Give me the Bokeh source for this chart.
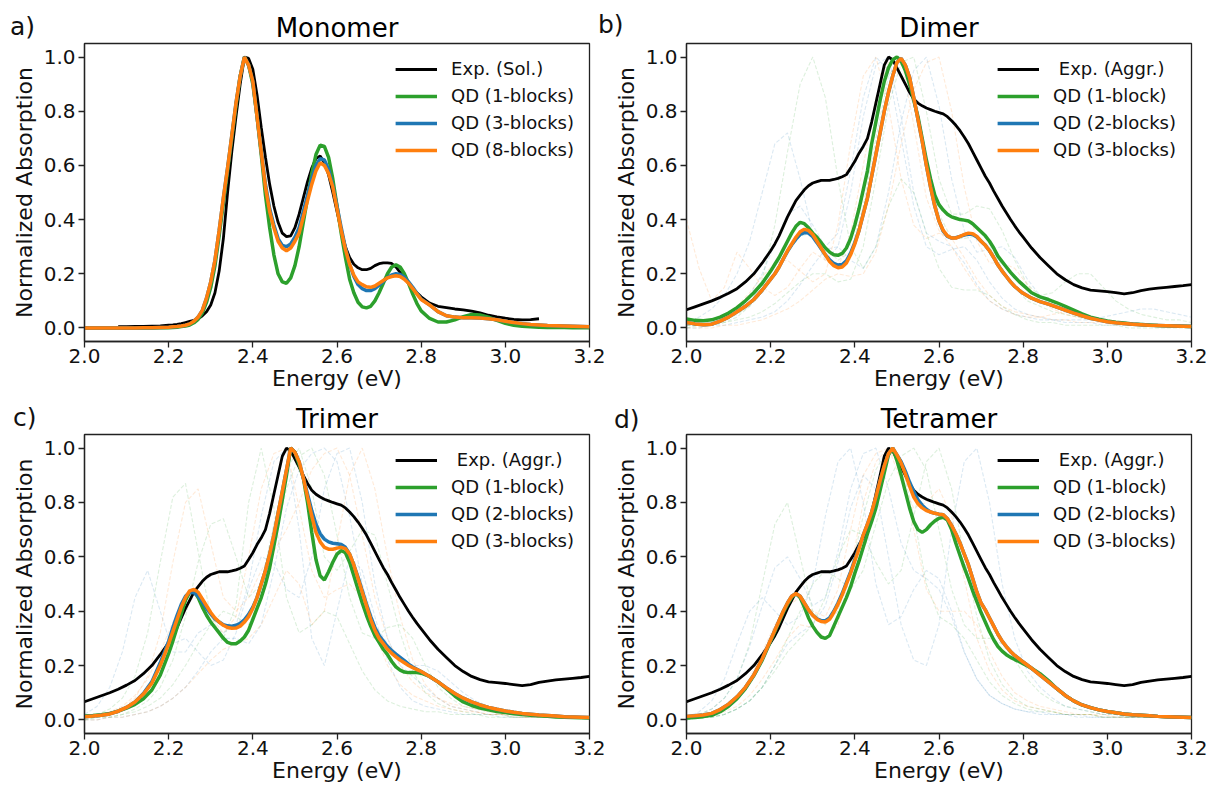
from bokeh.plotting import figure
from bokeh.layouts import column, row
from bokeh.models import Legend, LegendItem, Div, FixedTicker, PrintfTickFormatter, Range1d
from bokeh.embed import file_html
from bokeh.resources import INLINE

# ---------------- data ----------------
x_ticks = [2.0, 2.2, 2.4, 2.6, 2.8, 3.0, 3.2]
y_ticks = [0.0, 0.2, 0.4, 0.6, 0.8, 1.0]

energy = [2.00, 2.02, 2.04, 2.06, 2.08, 2.10, 2.12, 2.14, 2.16, 2.18, 2.20,
          2.21, 2.22, 2.23, 2.24, 2.25, 2.26, 2.27, 2.28, 2.29, 2.30,
          2.31, 2.32, 2.33, 2.34, 2.35, 2.36, 2.37, 2.38, 2.39, 2.40,
          2.41, 2.42, 2.43, 2.44, 2.45, 2.46, 2.47, 2.48, 2.49, 2.50,
          2.51, 2.52, 2.53, 2.54, 2.55, 2.56, 2.57, 2.58, 2.59, 2.60,
          2.61, 2.62, 2.63, 2.64, 2.65, 2.66, 2.67, 2.68, 2.69, 2.70,
          2.71, 2.72, 2.73, 2.74, 2.75, 2.76, 2.77, 2.78, 2.79, 2.80,
          2.82, 2.84, 2.86, 2.88, 2.90, 2.92, 2.94, 2.96, 2.98, 3.00,
          3.02, 3.04, 3.06, 3.08, 3.10, 3.12, 3.14, 3.16, 3.18, 3.20]

exp_sol_energy = [2.08, 2.10, 2.12, 2.14, 2.16, 2.18, 2.20,
                  2.21, 2.22, 2.23, 2.24, 2.25, 2.26, 2.27, 2.28, 2.29, 2.30,
                  2.31, 2.32, 2.33, 2.34, 2.35, 2.36, 2.37, 2.38, 2.39, 2.40,
                  2.41, 2.42, 2.43, 2.44, 2.45, 2.46, 2.47, 2.48, 2.49, 2.50,
                  2.51, 2.52, 2.53, 2.54, 2.55, 2.56, 2.57, 2.58, 2.59, 2.60,
                  2.61, 2.62, 2.63, 2.64, 2.65, 2.66, 2.67, 2.68, 2.69, 2.70,
                  2.71, 2.72, 2.73, 2.74, 2.75, 2.76, 2.77, 2.78, 2.79, 2.80,
                  2.82, 2.84, 2.86, 2.88, 2.90, 2.92, 2.94, 2.96, 2.98, 3.00,
                  3.02, 3.04, 3.06, 3.08]

exp_sol = [0.005, 0.005, 0.006, 0.006, 0.007, 0.008, 0.010,
           0.011, 0.013, 0.016, 0.020, 0.024, 0.028, 0.034, 0.045, 0.060, 0.085,
           0.13, 0.21, 0.33, 0.50, 0.65, 0.78, 0.90, 1.0, 0.995, 0.955,
           0.86, 0.74, 0.63, 0.53, 0.45, 0.39, 0.35, 0.337, 0.34, 0.37,
           0.42, 0.48, 0.54, 0.59, 0.625, 0.635, 0.61, 0.565, 0.50, 0.43,
           0.36, 0.30, 0.26, 0.235, 0.222, 0.215, 0.215, 0.22, 0.23, 0.237,
           0.24, 0.24, 0.238, 0.225, 0.205, 0.185, 0.165, 0.145, 0.13, 0.115,
           0.092, 0.08, 0.075, 0.07, 0.067, 0.062, 0.056, 0.047, 0.041, 0.036,
           0.032, 0.03, 0.031, 0.034]

mono_qd1 = [0.0, 0.0, 0.0, 0.0, 0.0, 0.0, 0.0, 0.0, 0.0, 0.001, 0.001,
            0.002, 0.003, 0.005, 0.007, 0.011, 0.019, 0.032, 0.055, 0.095, 0.15,
            0.23, 0.34, 0.46, 0.58, 0.70, 0.82, 0.93, 1.0, 0.97, 0.90,
            0.78, 0.64, 0.49, 0.37, 0.27, 0.20, 0.17, 0.165, 0.185, 0.23,
            0.30, 0.39, 0.48, 0.57, 0.64, 0.675, 0.67, 0.63, 0.55, 0.45,
            0.35, 0.26, 0.18, 0.13, 0.095, 0.078, 0.074, 0.08, 0.10, 0.13,
            0.165, 0.20, 0.225, 0.233, 0.225, 0.20, 0.165, 0.125, 0.09, 0.063,
            0.035, 0.022, 0.022, 0.03, 0.042, 0.05, 0.048, 0.04, 0.028, 0.017,
            0.01, 0.006, 0.004, 0.003, 0.002, 0.002, 0.002, 0.001, 0.001, 0.001]

mono_qd3 = [0.0, 0.0, 0.0, 0.0, 0.0, 0.0, 0.0, 0.001, 0.001, 0.002, 0.003,
            0.004, 0.005, 0.007, 0.010, 0.015, 0.025, 0.040, 0.065, 0.110, 0.170,
            0.25, 0.36, 0.48, 0.59, 0.71, 0.83, 0.93, 1.0, 0.97, 0.91,
            0.78, 0.65, 0.53, 0.44, 0.38, 0.33, 0.305, 0.30, 0.31, 0.335,
            0.37, 0.43, 0.49, 0.55, 0.60, 0.625, 0.62, 0.585, 0.525, 0.45,
            0.37, 0.295, 0.235, 0.19, 0.16, 0.145, 0.138, 0.138, 0.145, 0.158,
            0.172, 0.186, 0.196, 0.2, 0.197, 0.187, 0.17, 0.15, 0.128, 0.107,
            0.085, 0.06, 0.045, 0.04, 0.038, 0.038, 0.037, 0.034, 0.03, 0.025,
            0.02, 0.016, 0.013, 0.011, 0.009, 0.008, 0.007, 0.006, 0.005, 0.004]

mono_qd8 = [0.0, 0.0, 0.0, 0.0, 0.0, 0.0, 0.0, 0.001, 0.001, 0.002, 0.003,
            0.004, 0.005, 0.007, 0.010, 0.015, 0.025, 0.040, 0.065, 0.110, 0.170,
            0.25, 0.36, 0.48, 0.59, 0.71, 0.83, 0.93, 1.0, 0.97, 0.91,
            0.78, 0.65, 0.52, 0.43, 0.37, 0.32, 0.295, 0.285, 0.295, 0.32,
            0.35, 0.41, 0.47, 0.53, 0.58, 0.61, 0.60, 0.57, 0.52, 0.44,
            0.36, 0.29, 0.235, 0.195, 0.17, 0.16, 0.152, 0.15, 0.155, 0.165,
            0.175, 0.185, 0.19, 0.193, 0.19, 0.18, 0.165, 0.145, 0.125, 0.105,
            0.085, 0.06, 0.045, 0.04, 0.038, 0.038, 0.037, 0.034, 0.03, 0.025,
            0.02, 0.016, 0.013, 0.011, 0.009, 0.008, 0.007, 0.006, 0.005, 0.004]

exp_aggr = [0.067, 0.078, 0.089, 0.10, 0.113, 0.128, 0.145, 0.17, 0.20, 0.24, 0.285,
            0.31, 0.34, 0.375, 0.41, 0.44, 0.47, 0.49, 0.51, 0.525, 0.535,
            0.54, 0.545, 0.545, 0.545, 0.548, 0.552, 0.558, 0.566, 0.59, 0.615,
            0.645, 0.67, 0.70, 0.76, 0.83, 0.90, 0.97, 1.0, 0.99, 0.96,
            0.93, 0.90, 0.87, 0.845, 0.83, 0.82, 0.812, 0.806, 0.80, 0.795,
            0.79, 0.78, 0.765, 0.748, 0.728, 0.705, 0.68, 0.65, 0.62, 0.59,
            0.56, 0.535, 0.505, 0.478, 0.45, 0.425, 0.40, 0.377, 0.355, 0.335,
            0.295, 0.26, 0.23, 0.20, 0.178, 0.16, 0.148, 0.14, 0.137, 0.134,
            0.13, 0.126, 0.13, 0.138, 0.143, 0.147, 0.15, 0.153, 0.156, 0.16]

dimer_qd1 = [0.033, 0.028, 0.027, 0.03, 0.04, 0.055, 0.075, 0.10, 0.13, 0.165, 0.21,
             0.235, 0.26, 0.29, 0.32, 0.35, 0.375, 0.39, 0.385, 0.37, 0.35,
             0.335, 0.315, 0.295, 0.28, 0.27, 0.268, 0.275, 0.295, 0.33, 0.38,
             0.44, 0.51, 0.58, 0.68, 0.76, 0.84, 0.91, 0.96, 0.99, 1.0,
             0.985, 0.95, 0.90, 0.84, 0.78, 0.70, 0.62, 0.55, 0.49, 0.455,
             0.435, 0.42, 0.41, 0.405, 0.40, 0.398, 0.395, 0.385, 0.37, 0.355,
             0.34, 0.32, 0.295, 0.265, 0.245, 0.225, 0.205, 0.188, 0.172, 0.158,
             0.13, 0.115, 0.105, 0.093, 0.08, 0.066, 0.052, 0.04, 0.032, 0.026,
             0.021, 0.018, 0.015, 0.013, 0.011, 0.009, 0.008, 0.007, 0.006, 0.005]

dimer_qd2 = [0.02, 0.015, 0.012, 0.014, 0.025, 0.04, 0.06, 0.08, 0.105, 0.14, 0.18,
             0.20, 0.225, 0.255, 0.283, 0.307, 0.328, 0.345, 0.352, 0.35, 0.337,
             0.315, 0.292, 0.27, 0.252, 0.238, 0.232, 0.234, 0.248, 0.276, 0.315,
             0.36, 0.42, 0.48, 0.56, 0.64, 0.72, 0.80, 0.87, 0.93, 0.98,
             0.995, 0.97, 0.925, 0.85, 0.77, 0.69, 0.60, 0.52, 0.45, 0.395,
             0.357, 0.338, 0.332, 0.333, 0.338, 0.343, 0.347, 0.345, 0.336, 0.32,
             0.305, 0.285, 0.26, 0.232, 0.21, 0.19, 0.17, 0.153, 0.14, 0.128,
             0.11, 0.097, 0.088, 0.077, 0.066, 0.055, 0.045, 0.036, 0.029, 0.023,
             0.019, 0.016, 0.014, 0.012, 0.01, 0.009, 0.008, 0.007, 0.006, 0.005]

dimer_qd3 = [0.02, 0.015, 0.012, 0.014, 0.025, 0.04, 0.06, 0.08, 0.105, 0.14, 0.18,
             0.20, 0.225, 0.255, 0.285, 0.31, 0.335, 0.355, 0.364, 0.36, 0.345,
             0.32, 0.295, 0.27, 0.245, 0.23, 0.222, 0.225, 0.24, 0.27, 0.31,
             0.36, 0.42, 0.48, 0.56, 0.64, 0.72, 0.80, 0.87, 0.93, 0.98,
             0.995, 0.97, 0.925, 0.85, 0.77, 0.69, 0.60, 0.52, 0.45, 0.395,
             0.36, 0.34, 0.332, 0.332, 0.338, 0.345, 0.35, 0.348, 0.338, 0.32,
             0.305, 0.285, 0.26, 0.232, 0.21, 0.19, 0.17, 0.153, 0.14, 0.128,
             0.11, 0.097, 0.088, 0.077, 0.066, 0.055, 0.045, 0.036, 0.029, 0.023,
             0.019, 0.016, 0.014, 0.012, 0.01, 0.009, 0.008, 0.007, 0.006, 0.005]

trimer_qd1 = [0.014, 0.016, 0.019, 0.024, 0.032, 0.043, 0.057, 0.078, 0.11, 0.165, 0.245,
              0.29, 0.34, 0.39, 0.44, 0.47, 0.475, 0.45, 0.415, 0.385, 0.36,
              0.34, 0.32, 0.30, 0.285, 0.28, 0.28, 0.29, 0.305, 0.33, 0.37,
              0.41, 0.45, 0.50, 0.56, 0.64, 0.72, 0.81, 0.90, 1.0, 0.985,
              0.94, 0.89, 0.80, 0.69, 0.59, 0.53, 0.515, 0.545, 0.58, 0.61,
              0.623, 0.615, 0.58, 0.53, 0.48, 0.43, 0.385, 0.345, 0.31, 0.285,
              0.26, 0.24, 0.215, 0.195, 0.183, 0.176, 0.174, 0.174, 0.174, 0.172,
              0.16, 0.14, 0.115, 0.088, 0.066, 0.053, 0.044, 0.037, 0.031, 0.027,
              0.023, 0.02, 0.017, 0.015, 0.013, 0.011, 0.01, 0.009, 0.008, 0.007]

trimer_qd2 = [0.012, 0.014, 0.017, 0.022, 0.032, 0.046, 0.066, 0.097, 0.14, 0.21, 0.29,
              0.34, 0.385, 0.425, 0.455, 0.47, 0.468, 0.455, 0.435, 0.41, 0.39,
              0.372, 0.36, 0.35, 0.346, 0.345, 0.348, 0.355, 0.368, 0.388, 0.415,
              0.45, 0.50, 0.55, 0.61, 0.68, 0.76, 0.84, 0.92, 1.0, 0.985,
              0.95, 0.89, 0.83, 0.77, 0.72, 0.685, 0.665, 0.655, 0.65, 0.648,
              0.645, 0.635, 0.61, 0.57, 0.525, 0.475, 0.425, 0.38, 0.34, 0.31,
              0.29, 0.27, 0.255, 0.242, 0.23, 0.218, 0.205, 0.195, 0.186, 0.178,
              0.16, 0.14, 0.118, 0.097, 0.08, 0.066, 0.055, 0.046, 0.039, 0.033,
              0.028, 0.024, 0.021, 0.018, 0.016, 0.014, 0.012, 0.011, 0.01, 0.009]

trimer_qd3 = [0.012, 0.014, 0.017, 0.022, 0.032, 0.046, 0.066, 0.095, 0.135, 0.20, 0.28,
              0.325, 0.37, 0.415, 0.45, 0.475, 0.48, 0.47, 0.445, 0.42, 0.395,
              0.375, 0.36, 0.348, 0.34, 0.337, 0.338, 0.345, 0.36, 0.38, 0.41,
              0.45, 0.50, 0.55, 0.61, 0.68, 0.76, 0.84, 0.92, 1.0, 0.985,
              0.95, 0.89, 0.82, 0.75, 0.69, 0.655, 0.635, 0.628, 0.628, 0.632,
              0.635, 0.63, 0.61, 0.57, 0.52, 0.47, 0.42, 0.37, 0.33, 0.30,
              0.28, 0.26, 0.245, 0.232, 0.22, 0.21, 0.20, 0.192, 0.185, 0.178,
              0.16, 0.14, 0.118, 0.097, 0.08, 0.066, 0.055, 0.046, 0.039, 0.033,
              0.028, 0.024, 0.021, 0.018, 0.016, 0.014, 0.012, 0.011, 0.01, 0.009]

tetramer_qd1 = [0.007, 0.009, 0.012, 0.017, 0.03, 0.05, 0.078, 0.115, 0.163, 0.22, 0.29,
                0.325, 0.36, 0.395, 0.425, 0.45, 0.465, 0.45, 0.415, 0.375, 0.345,
                0.322, 0.305, 0.30, 0.31, 0.345, 0.38, 0.415, 0.45, 0.49, 0.54,
                0.585, 0.635, 0.685, 0.73, 0.78, 0.845, 0.91, 0.975, 1.0, 0.955,
                0.90, 0.84, 0.78, 0.73, 0.70, 0.69, 0.70, 0.718, 0.732, 0.742,
                0.745, 0.735, 0.70, 0.65, 0.605, 0.56, 0.52, 0.475, 0.435, 0.395,
                0.36, 0.325, 0.295, 0.27, 0.253, 0.24, 0.23, 0.222, 0.215, 0.207,
                0.19, 0.17, 0.145, 0.115, 0.09, 0.07, 0.055, 0.045, 0.037, 0.031,
                0.026, 0.022, 0.019, 0.017, 0.015, 0.013, 0.012, 0.011, 0.01, 0.009]

tetramer_qd2 = [0.013, 0.015, 0.018, 0.024, 0.038, 0.058, 0.085, 0.12, 0.165, 0.225, 0.295,
                0.33, 0.365, 0.40, 0.43, 0.455, 0.465, 0.455, 0.43, 0.405, 0.385,
                0.372, 0.365, 0.365, 0.375, 0.40, 0.43, 0.465, 0.505, 0.545, 0.59,
                0.635, 0.68, 0.72, 0.765, 0.82, 0.88, 0.935, 0.98, 1.0, 0.975,
                0.95, 0.915, 0.875, 0.84, 0.81, 0.79, 0.775, 0.765, 0.76, 0.757,
                0.755, 0.74, 0.715, 0.685, 0.65, 0.61, 0.57, 0.52, 0.47, 0.43,
                0.405, 0.375, 0.345, 0.315, 0.29, 0.27, 0.252, 0.237, 0.225, 0.213,
                0.19, 0.165, 0.14, 0.115, 0.09, 0.07, 0.055, 0.045, 0.037, 0.031,
                0.026, 0.022, 0.019, 0.017, 0.015, 0.013, 0.012, 0.011, 0.01, 0.009]

tetramer_qd3 = [0.013, 0.015, 0.018, 0.024, 0.038, 0.058, 0.085, 0.12, 0.165, 0.225, 0.295,
                0.33, 0.365, 0.40, 0.43, 0.455, 0.465, 0.455, 0.43, 0.405, 0.385,
                0.37, 0.362, 0.36, 0.37, 0.395, 0.425, 0.46, 0.50, 0.54, 0.585,
                0.63, 0.68, 0.72, 0.765, 0.82, 0.88, 0.935, 0.98, 1.0, 0.975,
                0.945, 0.905, 0.86, 0.82, 0.795, 0.78, 0.77, 0.765, 0.76, 0.757,
                0.755, 0.74, 0.715, 0.685, 0.65, 0.61, 0.57, 0.52, 0.47, 0.43,
                0.405, 0.375, 0.345, 0.315, 0.29, 0.27, 0.252, 0.237, 0.225, 0.213,
                0.19, 0.165, 0.14, 0.115, 0.09, 0.07, 0.055, 0.045, 0.037, 0.031,
                0.026, 0.022, 0.019, 0.017, 0.015, 0.013, 0.012, 0.011, 0.01, 0.009]

# individual (faint, dashed) configurations on a coarser grid
config_energy = [2.00, 2.03, 2.06, 2.09, 2.12, 2.15, 2.18, 2.21, 2.24, 2.27, 2.30,
                 2.33, 2.36, 2.39, 2.42, 2.45, 2.48, 2.51, 2.54, 2.57, 2.60,
                 2.63, 2.66, 2.69, 2.72, 2.75, 2.78, 2.81, 2.84, 2.87, 2.90,
                 2.93, 2.96, 2.99, 3.02, 3.05, 3.08, 3.11, 3.14, 3.17, 3.20]

dimer_configs = [
    [0.01, 0.01, 0.02, 0.03, 0.05, 0.08, 0.13, 0.20, 0.28, 0.34, 0.35, 0.30, 0.25, 0.28, 0.45, 0.70, 0.93, 1.00, 0.85, 0.60, 0.42, 0.33, 0.33, 0.34, 0.30, 0.22, 0.15, 0.10, 0.08, 0.06, 0.05, 0.04, 0.03, 0.03, 0.02, 0.02, 0.01, 0.01, 0.01, 0.01, 0.01],
    [0.00, 0.00, 0.01, 0.01, 0.02, 0.03, 0.04, 0.06, 0.10, 0.16, 0.23, 0.29, 0.30, 0.25, 0.22, 0.30, 0.50, 0.76, 0.95, 1.00, 0.82, 0.55, 0.36, 0.28, 0.29, 0.30, 0.26, 0.18, 0.12, 0.08, 0.06, 0.05, 0.04, 0.03, 0.02, 0.02, 0.02, 0.01, 0.01, 0.01, 0.01],
    [0.01, 0.02, 0.03, 0.05, 0.08, 0.13, 0.19, 0.24, 0.25, 0.21, 0.17, 0.20, 0.38, 0.68, 0.93, 1.00, 0.82, 0.55, 0.38, 0.33, 0.35, 0.33, 0.26, 0.18, 0.12, 0.08, 0.06, 0.05, 0.04, 0.03, 0.03, 0.02, 0.02, 0.02, 0.01, 0.01, 0.01, 0.01, 0.01, 0.01, 0.01],
    [0.00, 0.01, 0.01, 0.02, 0.04, 0.08, 0.18, 0.38, 0.65, 0.90, 1.00, 0.85, 0.55, 0.30, 0.22, 0.30, 0.45, 0.55, 0.50, 0.35, 0.22, 0.15, 0.14, 0.14, 0.12, 0.08, 0.05, 0.03, 0.02, 0.02, 0.01, 0.01, 0.01, 0.01, 0.01, 0.00, 0.00, 0.00, 0.00, 0.00, 0.00],
    [0.02, 0.04, 0.07, 0.12, 0.20, 0.32, 0.50, 0.68, 0.72, 0.55, 0.35, 0.25, 0.30, 0.50, 0.78, 0.97, 1.00, 0.78, 0.50, 0.35, 0.32, 0.30, 0.24, 0.16, 0.10, 0.07, 0.05, 0.04, 0.03, 0.03, 0.02, 0.02, 0.02, 0.01, 0.01, 0.01, 0.01, 0.01, 0.01, 0.01, 0.01],
    [0.40, 0.22, 0.10, 0.15, 0.28, 0.22, 0.15, 0.12, 0.15, 0.22, 0.28, 0.25, 0.22, 0.35, 0.60, 0.85, 0.98, 1.00, 0.75, 0.48, 0.36, 0.30, 0.22, 0.15, 0.10, 0.07, 0.05, 0.04, 0.04, 0.05, 0.06, 0.05, 0.04, 0.03, 0.02, 0.02, 0.01, 0.01, 0.01, 0.01, 0.01],
    [0.01, 0.01, 0.01, 0.02, 0.03, 0.04, 0.06, 0.09, 0.13, 0.17, 0.20, 0.20, 0.17, 0.18, 0.30, 0.55, 0.82, 0.98, 1.00, 0.80, 0.55, 0.42, 0.42, 0.45, 0.44, 0.36, 0.25, 0.16, 0.12, 0.13, 0.17, 0.20, 0.20, 0.15, 0.10, 0.07, 0.05, 0.04, 0.03, 0.03, 0.02],
    [0.01, 0.01, 0.02, 0.04, 0.07, 0.12, 0.20, 0.31, 0.42, 0.45, 0.38, 0.30, 0.35, 0.58, 0.85, 1.00, 0.95, 0.70, 0.45, 0.30, 0.27, 0.29, 0.30, 0.25, 0.17, 0.11, 0.07, 0.05, 0.04, 0.03, 0.03, 0.03, 0.03, 0.04, 0.05, 0.06, 0.07, 0.07, 0.06, 0.05, 0.04],
    [0.00, 0.00, 0.00, 0.01, 0.01, 0.02, 0.03, 0.05, 0.07, 0.10, 0.14, 0.18, 0.20, 0.19, 0.20, 0.28, 0.45, 0.68, 0.88, 0.98, 1.00, 0.80, 0.52, 0.32, 0.24, 0.24, 0.22, 0.16, 0.10, 0.07, 0.05, 0.04, 0.03, 0.03, 0.02, 0.02, 0.01, 0.01, 0.01, 0.01, 0.01],
]

trimer_configs = [
    [0.01, 0.02, 0.04, 0.08, 0.16, 0.32, 0.58, 0.82, 0.87, 0.62, 0.38, 0.30, 0.42, 0.80, 1.00, 0.78, 0.45, 0.32, 0.35, 0.40, 0.38, 0.28, 0.18, 0.11, 0.07, 0.05, 0.04, 0.03, 0.03, 0.02, 0.02, 0.02, 0.01, 0.01, 0.01, 0.01, 0.01, 0.01, 0.01, 0.01, 0.01],
    [0.02, 0.05, 0.12, 0.25, 0.45, 0.55, 0.40, 0.25, 0.25, 0.32, 0.35, 0.32, 0.35, 0.50, 0.75, 0.95, 1.00, 0.70, 0.30, 0.20, 0.40, 0.60, 0.55, 0.38, 0.22, 0.12, 0.07, 0.05, 0.04, 0.03, 0.02, 0.02, 0.02, 0.01, 0.01, 0.01, 0.01, 0.01, 0.01, 0.01, 0.01],
    [0.01, 0.01, 0.02, 0.04, 0.08, 0.16, 0.32, 0.58, 0.80, 0.85, 0.65, 0.45, 0.40, 0.45, 0.55, 0.62, 0.70, 0.80, 0.92, 0.98, 1.00, 0.90, 0.68, 0.45, 0.30, 0.20, 0.14, 0.10, 0.08, 0.06, 0.05, 0.04, 0.03, 0.02, 0.02, 0.02, 0.01, 0.01, 0.01, 0.01, 0.01],
    [0.00, 0.01, 0.01, 0.02, 0.04, 0.07, 0.12, 0.22, 0.38, 0.58, 0.72, 0.74, 0.60, 0.45, 0.50, 0.72, 0.92, 1.00, 0.85, 0.60, 0.55, 0.62, 0.70, 0.68, 0.50, 0.32, 0.18, 0.10, 0.06, 0.04, 0.03, 0.02, 0.02, 0.02, 0.01, 0.01, 0.01, 0.01, 0.01, 0.01, 0.01],
    [0.01, 0.01, 0.02, 0.04, 0.07, 0.12, 0.20, 0.28, 0.30, 0.25, 0.20, 0.22, 0.32, 0.48, 0.60, 0.58, 0.48, 0.45, 0.60, 0.85, 0.98, 1.00, 0.80, 0.50, 0.30, 0.20, 0.16, 0.12, 0.08, 0.05, 0.04, 0.03, 0.02, 0.02, 0.01, 0.01, 0.01, 0.01, 0.01, 0.01, 0.01],
    [0.01, 0.02, 0.03, 0.05, 0.09, 0.15, 0.25, 0.36, 0.44, 0.45, 0.38, 0.32, 0.38, 0.60, 0.85, 0.98, 1.00, 0.78, 0.55, 0.45, 0.48, 0.50, 0.45, 0.32, 0.20, 0.13, 0.09, 0.07, 0.05, 0.04, 0.03, 0.03, 0.02, 0.02, 0.02, 0.01, 0.01, 0.01, 0.01, 0.01, 0.01],
    [0.00, 0.01, 0.01, 0.02, 0.03, 0.05, 0.08, 0.13, 0.20, 0.28, 0.35, 0.40, 0.38, 0.35, 0.45, 0.65, 0.85, 0.97, 1.00, 0.90, 0.68, 0.45, 0.32, 0.30, 0.34, 0.35, 0.30, 0.20, 0.12, 0.08, 0.05, 0.04, 0.03, 0.03, 0.02, 0.02, 0.01, 0.01, 0.01, 0.01, 0.01],
    [0.00, 0.00, 0.01, 0.01, 0.02, 0.03, 0.05, 0.08, 0.12, 0.18, 0.25, 0.30, 0.30, 0.28, 0.35, 0.55, 0.78, 0.92, 0.98, 1.00, 0.95, 0.75, 0.50, 0.35, 0.28, 0.22, 0.20, 0.20, 0.18, 0.14, 0.10, 0.07, 0.05, 0.04, 0.03, 0.02, 0.02, 0.01, 0.01, 0.01, 0.01],
    [0.00, 0.00, 0.01, 0.01, 0.02, 0.03, 0.05, 0.08, 0.12, 0.17, 0.22, 0.26, 0.28, 0.30, 0.35, 0.45, 0.55, 0.50, 0.35, 0.40, 0.65, 0.90, 1.00, 0.85, 0.60, 0.38, 0.22, 0.13, 0.08, 0.05, 0.04, 0.03, 0.02, 0.02, 0.01, 0.01, 0.01, 0.01, 0.01, 0.01, 0.01],
]

tetramer_configs = [
    [0.01, 0.02, 0.04, 0.08, 0.15, 0.28, 0.50, 0.72, 0.80, 0.60, 0.40, 0.35, 0.40, 0.55, 0.75, 0.92, 1.00, 0.95, 0.75, 0.50, 0.38, 0.35, 0.30, 0.22, 0.14, 0.09, 0.06, 0.04, 0.03, 0.03, 0.02, 0.02, 0.02, 0.01, 0.01, 0.01, 0.01, 0.01, 0.01, 0.01, 0.01],
    [0.01, 0.03, 0.07, 0.15, 0.28, 0.40, 0.45, 0.40, 0.35, 0.38, 0.50, 0.75, 0.95, 1.00, 0.80, 0.50, 0.35, 0.38, 0.48, 0.55, 0.52, 0.40, 0.25, 0.15, 0.09, 0.06, 0.04, 0.03, 0.02, 0.02, 0.02, 0.01, 0.01, 0.01, 0.01, 0.01, 0.01, 0.01, 0.01, 0.01, 0.01],
    [0.01, 0.01, 0.02, 0.04, 0.08, 0.15, 0.25, 0.35, 0.42, 0.45, 0.40, 0.38, 0.48, 0.70, 0.90, 0.98, 1.00, 0.88, 0.78, 0.80, 0.85, 0.75, 0.52, 0.30, 0.18, 0.11, 0.07, 0.05, 0.04, 0.03, 0.02, 0.02, 0.02, 0.01, 0.01, 0.01, 0.01, 0.01, 0.01, 0.01, 0.01],
    [0.00, 0.01, 0.01, 0.02, 0.04, 0.07, 0.12, 0.18, 0.25, 0.30, 0.35, 0.45, 0.60, 0.70, 0.68, 0.58, 0.50, 0.55, 0.75, 0.95, 1.00, 0.85, 0.60, 0.38, 0.22, 0.13, 0.08, 0.05, 0.04, 0.03, 0.02, 0.02, 0.02, 0.01, 0.01, 0.01, 0.01, 0.01, 0.01, 0.01, 0.01],
    [0.00, 0.01, 0.01, 0.02, 0.04, 0.07, 0.12, 0.20, 0.28, 0.32, 0.35, 0.42, 0.58, 0.78, 0.90, 0.85, 0.60, 0.35, 0.22, 0.20, 0.35, 0.70, 0.95, 1.00, 0.80, 0.50, 0.30, 0.18, 0.12, 0.08, 0.05, 0.04, 0.03, 0.02, 0.02, 0.01, 0.01, 0.01, 0.01, 0.01, 0.01],
    [0.01, 0.01, 0.02, 0.03, 0.05, 0.09, 0.15, 0.22, 0.30, 0.35, 0.34, 0.30, 0.35, 0.55, 0.80, 0.95, 1.00, 0.92, 0.70, 0.48, 0.40, 0.40, 0.40, 0.35, 0.25, 0.16, 0.10, 0.07, 0.05, 0.04, 0.03, 0.02, 0.02, 0.02, 0.01, 0.01, 0.01, 0.01, 0.01, 0.01, 0.01],
    [0.00, 0.01, 0.01, 0.02, 0.04, 0.07, 0.12, 0.20, 0.30, 0.40, 0.50, 0.55, 0.52, 0.48, 0.55, 0.72, 0.88, 0.97, 1.00, 0.92, 0.70, 0.48, 0.35, 0.30, 0.30, 0.28, 0.22, 0.15, 0.10, 0.07, 0.05, 0.04, 0.03, 0.02, 0.02, 0.01, 0.01, 0.01, 0.01, 0.01, 0.01],
    [0.01, 0.02, 0.04, 0.08, 0.15, 0.27, 0.42, 0.56, 0.60, 0.52, 0.42, 0.45, 0.62, 0.85, 0.98, 1.00, 0.85, 0.65, 0.55, 0.52, 0.48, 0.38, 0.25, 0.15, 0.09, 0.06, 0.04, 0.03, 0.03, 0.02, 0.02, 0.02, 0.01, 0.01, 0.01, 0.01, 0.01, 0.01, 0.01, 0.01, 0.01],
]

mono_labels = ["Exp. (Sol.)", "QD (1-blocks)", "QD (3-blocks)", "QD (8-blocks)"]
aggr_labels = [" Exp. (Aggr.)", "QD (1-block)", "QD (2-blocks)", "QD (3-blocks)"]
panel_letters = ["a)", "b)", "c)", "d)"]

# ---------------- styling ----------------
FONT = "DejaVu Sans"
C_EXP = "#000000"
C_G = "#2ca02c"
C_B = "#1f77b4"
C_O = "#ff7f0e"
CONFIG_COLORS = [C_G, C_B, C_O]


def make_panel(title, exp_x, exp_y, qd_list, labels, configs,
               width, height, left, right, top, bottom):
    p = figure(width=width, height=height, output_backend="svg", toolbar_location=None,
               x_range=Range1d(2.0, 3.2), y_range=Range1d(-0.05, 1.05),
               min_border_left=left, min_border_right=right,
               min_border_top=top, min_border_bottom=bottom,
               background_fill_color="white", border_fill_color="white")
    p.title.text = title
    p.title.align = "center"
    p.title.text_font = FONT
    p.title.text_font_size = "26px"
    p.title.text_font_style = "normal"
    p.title.text_color = "#000000"
    p.title.standoff = 2

    p.xaxis.axis_label = "Energy (eV)"
    p.yaxis.axis_label = "Normalized Absorption"
    p.xaxis.ticker = FixedTicker(ticks=x_ticks)
    p.yaxis.ticker = FixedTicker(ticks=y_ticks)
    for ax in (p.xaxis[0], p.yaxis[0]):
        ax.formatter = PrintfTickFormatter(format="%.1f")
        ax.major_label_text_font = FONT
        ax.major_label_text_font_size = "20px"
        ax.major_label_text_color = "#111111"
        ax.axis_label_text_font = FONT
        ax.axis_label_text_font_size = "22px"
        ax.axis_label_text_font_style = "normal"
        ax.axis_label_text_color = "#111111"
        ax.major_tick_out = 6
        ax.major_tick_in = 0
        ax.minor_tick_out = 0
        ax.minor_tick_in = 0
        ax.axis_line_width = 1.3
        ax.major_tick_line_width = 1.3
        ax.axis_line_color = "#222222"
        ax.major_tick_line_color = "#222222"
    p.xaxis.major_label_standoff = 1
    p.xaxis.axis_label_standoff = 0
    p.yaxis.major_label_standoff = 3
    p.yaxis.axis_label_standoff = 4
    p.xgrid.visible = False
    p.ygrid.visible = False
    p.outline_line_color = "#222222"
    p.outline_line_width = 1.3
    p.outline_line_alpha = 1.0

    for i, cy in enumerate(configs):
        assert len(cy) == len(config_energy)
        p.line(config_energy, cy, line_color=CONFIG_COLORS[i % 3], line_width=1.1,
               line_alpha=0.16, line_dash="4 2")

    assert len(exp_x) == len(exp_y)
    items = []
    r = p.line(exp_x, exp_y, line_color=C_EXP, line_width=2.8)
    items.append(LegendItem(label=labels[0], renderers=[r]))
    for lab, ys, col in zip(labels[1:], qd_list, [C_G, C_B, C_O]):
        assert len(ys) == len(energy)
        r = p.line(energy, ys, line_color=col, line_width=3.5)
        items.append(LegendItem(label=lab, renderers=[r]))

    legend = Legend(items=items, location="top_right",
                    border_line_alpha=0, background_fill_alpha=0,
                    label_text_font=FONT, label_text_font_size="18px",
                    label_text_color="#111111",
                    glyph_width=42, glyph_height=20, label_height=20,
                    spacing=6, label_standoff=14, padding=5, margin=10)
    p.add_layout(legend)
    return p


def letter_div(text, left, top):
    return Div(text=text, styles={
        "position": "absolute", "left": f"{left}px", "top": f"{top}px",
        "font-family": FONT, "font-size": "25px", "line-height": "1",
        "color": "#111111", "z-index": "10", "margin": "0", "padding": "0",
        "white-space": "nowrap"})


pa = make_panel("Monomer", exp_sol_energy, exp_sol, [mono_qd1, mono_qd3, mono_qd8],
                mono_labels, [], 606, 393, 84, 17, 43, 51)
pb = make_panel("Dimer", energy, exp_aggr, [dimer_qd1, dimer_qd2, dimer_qd3],
                aggr_labels, dimer_configs, 604, 393, 80, 19, 43, 51)
pc = make_panel("Trimer", energy, exp_aggr, [trimer_qd1, trimer_qd2, trimer_qd3],
                aggr_labels, trimer_configs, 606, 394, 84, 17, 41, 54)
pd = make_panel("Tetramer", energy, exp_aggr, [tetramer_qd1, tetramer_qd2, tetramer_qd3],
                aggr_labels, tetramer_configs, 604, 394, 80, 19, 41, 54)

letters = [letter_div(panel_letters[0], 10, 14),
           letter_div(panel_letters[1], 598, 12),
           letter_div(panel_letters[2], 13, 405),
           letter_div(panel_letters[3], 614, 407)]

layout = column(row(pa, pb), row(pc, pd), *letters)
open("out.html", "w").write(file_html(layout, INLINE))
